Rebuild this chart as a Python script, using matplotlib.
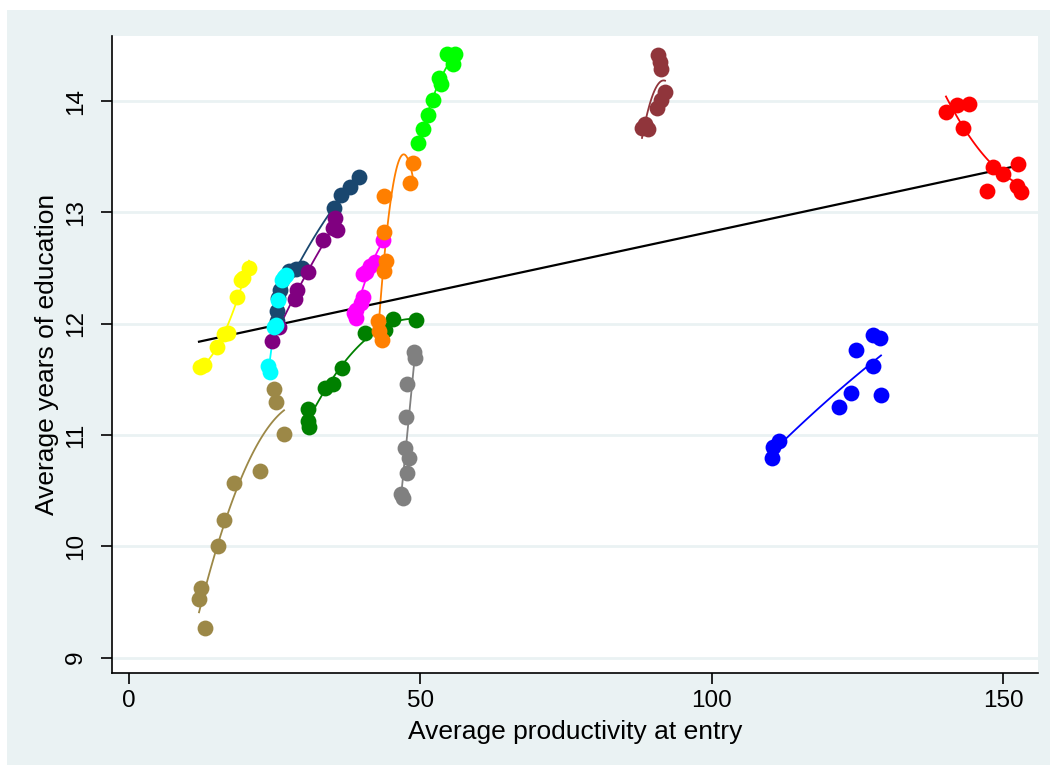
import numpy as np
import matplotlib.pyplot as plt
from matplotlib.patches import Rectangle

plt.rcParams['font.family'] = ['Liberation Sans', 'DejaVu Sans']

# groups: x values and y values
yellow_x = [12.18, 12.87, 15.10, 16.30, 16.99, 18.53, 19.22, 19.56, 20.59]
yellow_y = [11.61, 11.63, 11.79, 11.91, 11.92, 12.24, 12.39, 12.41, 12.50]

cyan_x = [23.85, 24.20, 24.88, 25.23, 25.57, 26.26, 26.60, 26.94]
cyan_y = [11.62, 11.57, 11.97, 11.99, 12.21, 12.39, 12.42, 12.44]

navy_x = [39.47, 37.93, 36.38, 35.18, 29.69, 28.66, 27.46, 25.91, 25.57, 25.40, 25.40]
navy_y = [13.32, 13.23, 13.16, 13.04, 12.50, 12.49, 12.47, 12.30, 12.23, 12.11, 12.02]

purple_x = [35.35, 35.01, 35.70, 33.29, 30.72, 28.83, 28.49, 25.74, 24.54]
purple_y = [12.95, 12.86, 12.84, 12.75, 12.46, 12.30, 12.22, 11.97, 11.84]

magenta_x = [43.59, 42.22, 41.36, 40.67, 40.16, 40.16, 39.81, 38.95, 38.61, 38.95]
magenta_y = [12.75, 12.55, 12.52, 12.46, 12.45, 12.24, 12.19, 12.12, 12.10, 12.05]

orange_x = [48.74, 48.22, 43.76, 43.76, 44.11, 43.76, 42.73, 42.90, 43.42]
orange_y = [13.44, 13.26, 13.15, 12.82, 12.56, 12.47, 12.02, 11.93, 11.85]

green_x = [30.72, 30.72, 30.89, 33.64, 35.01, 36.55, 40.50, 43.93, 45.31, 49.25]
green_y = [11.23, 11.13, 11.07, 11.42, 11.46, 11.60, 11.92, 11.94, 12.04, 12.03]

tan_x = [24.88, 25.23, 26.60, 22.48, 18.02, 16.30, 15.27, 12.36, 12.01, 13.04]
tan_y = [11.41, 11.30, 11.01, 10.68, 10.57, 10.24, 10.00, 9.63, 9.53, 9.27]

gray_x = [48.91, 49.08, 47.71, 47.54, 47.37, 48.05, 47.71, 46.68, 47.02]
gray_y = [11.75, 11.69, 11.46, 11.16, 10.88, 10.79, 10.66, 10.47, 10.43]

maroon_x = [90.78, 91.13, 91.30, 91.99, 91.30, 90.61, 88.04, 89.07, 88.55]
maroon_y = [14.41, 14.35, 14.29, 14.08, 14.01, 13.94, 13.76, 13.75, 13.79]

red_x = [140.21, 142.10, 144.16, 143.13, 148.27, 149.99, 152.57, 147.24, 152.39, 153.08]
red_y = [13.90, 13.96, 13.97, 13.76, 13.41, 13.34, 13.43, 13.19, 13.24, 13.18]

blue_x = [110.35, 110.52, 111.55, 121.85, 123.91, 124.77, 127.69, 127.69, 128.88, 129.06]
blue_y = [10.79, 10.89, 10.95, 11.25, 11.38, 11.76, 11.62, 11.90, 11.87, 11.36]

lime_x = [54.57, 55.95, 55.60, 53.20, 53.54, 52.17, 51.31, 50.45, 49.60]
lime_y = [14.42, 14.42, 14.33, 14.21, 14.15, 14.01, 13.87, 13.75, 13.62]

# overall linear fit
fit_intercept = 11.703
fit_slope = 0.01125

groups = [
    ('#FFFF00', yellow_x, yellow_y),
    ('#9C8847', tan_x, tan_y),
    ('#1A476F', navy_x, navy_y),
    ('#800080', purple_x, purple_y),
    ('#00FFFF', cyan_x, cyan_y),
    ('#008000', green_x, green_y),
    ('#FF00FF', magenta_x, magenta_y),
    ('#FF7F00', orange_x, orange_y),
    ('#808080', gray_x, gray_y),
    ('#00FF00', lime_x, lime_y),
    ('#90353B', maroon_x, maroon_y),
    ('#0000FF', blue_x, blue_y),
    ('#FF0000', red_x, red_y),
]

fig = plt.figure(figsize=(10.54, 7.71), dpi=100, facecolor='white')
bg = Rectangle((0.0066, 0.0078), 0.99, 0.979, transform=fig.transFigure,
               facecolor='#EAF2F3', edgecolor='none', zorder=-10)
fig.add_artist(bg)
ax = fig.add_axes([0.1063, 0.1271, 0.8785, 0.8262])
ax.set_zorder(1)
ax.set_facecolor('white')

for col, xs, ys in groups:
    xs = np.array(xs); ys = np.array(ys)
    ax.scatter(xs, ys, s=130, color=col, zorder=3, linewidths=0)
    c = np.polyfit(xs, ys, 2)
    xx = np.linspace(xs.min(), xs.max(), 100)
    ax.plot(xx, np.polyval(c, xx), color=col, lw=1.3, zorder=2)

all_x = np.concatenate([g[1] for g in groups])
lx = np.array([all_x.min(), all_x.max()])
ax.plot(lx, fit_intercept + fit_slope * lx, color='black', lw=1.6, zorder=2.5)

ax.set_xlim(-2.92, 156.0)
ax.set_ylim(8.862, 14.584)
ax.set_xticks([0, 50, 100, 150])
ax.set_yticks([9, 10, 11, 12, 13, 14])
ax.grid(axis='y', color='#EAF2F3', lw=2, zorder=0)
ax.set_axisbelow(True)
for s in ['top', 'right']:
    ax.spines[s].set_visible(False)
for s in ['left', 'bottom']:
    ax.spines[s].set_linewidth(1.2)
ax.tick_params(axis='both', length=8, width=1.2, labelsize=17.5, direction='out')
ax.tick_params(axis='x', pad=4)
ax.tick_params(axis='y', pad=10)
for lab in ax.get_yticklabels():
    lab.set_rotation(90)
    lab.set_va('center')
ax.set_xlabel('Average productivity at entry', fontsize=19, labelpad=6)
ax.set_ylabel('Average years of education', fontsize=19, labelpad=4)

fig.savefig('out.png', dpi=100)
